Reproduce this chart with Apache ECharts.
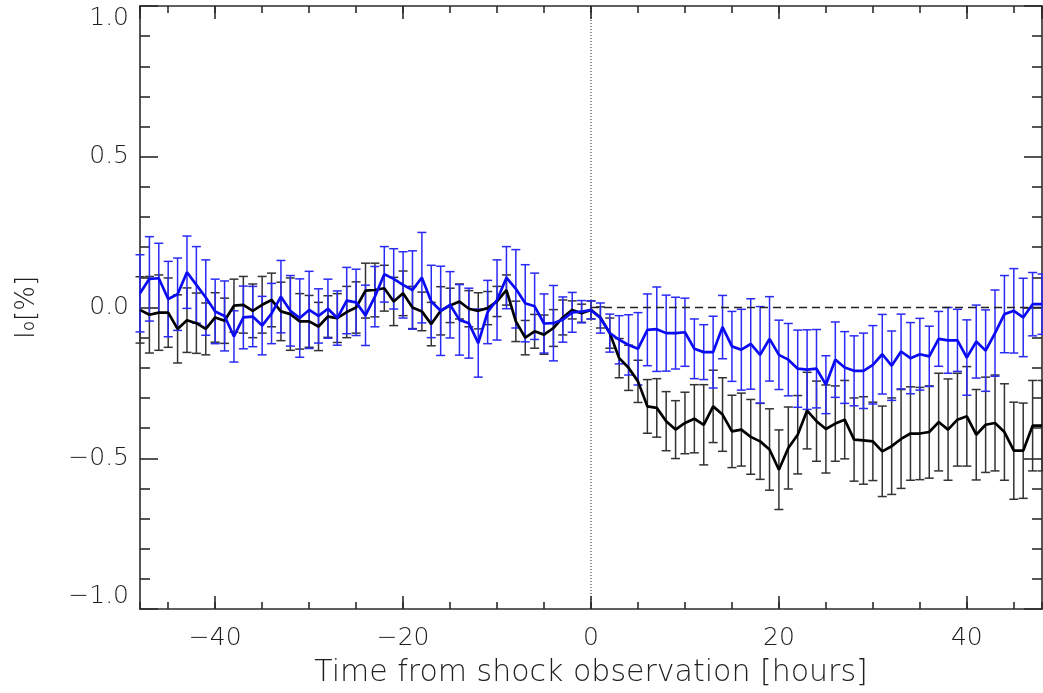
<!DOCTYPE html>
<html>
<head>
<meta charset="utf-8">
<script src="https://cdn.jsdelivr.net/npm/echarts@6/dist/echarts.min.js"></script>
<style>
html,body{margin:0;padding:0;background:#fff;}
#chart{width:1043px;height:693px;}
</style>
</head>
<body>
<div id="chart"></div>
<script>
// Hours relative to shock observation
var hours = [];
for (var h = -48; h <= 48; h++) hours.push(h);

// Black series (values and half error bars), hours -48..48
var blackValues = [
 -0.008,-0.024,-0.017,-0.017,-0.071,-0.042,-0.052,-0.071,-0.033,-0.044,
  0.006, 0.009,-0.011, 0.009, 0.025,-0.013,-0.022,-0.046,-0.046,-0.063,
 -0.030,-0.035,-0.015, 0.000, 0.056, 0.058, 0.064, 0.020, 0.047, 0.000,
 -0.013,-0.055,-0.011, 0.007, 0.020,-0.004,-0.011,-0.002, 0.020, 0.058,
 -0.046,-0.100,-0.079,-0.090,-0.068,-0.033,-0.008,-0.019,-0.008,-0.033,
 -0.085,-0.168,-0.200,-0.245,-0.328,-0.333,-0.377,-0.405,-0.383,-0.369,
 -0.389,-0.328,-0.355,-0.411,-0.405,-0.429,-0.444,-0.471,-0.538,-0.466,
 -0.422,-0.342,-0.377,-0.403,-0.385,-0.372,-0.438,-0.441,-0.444,-0.477,
 -0.460,-0.436,-0.418,-0.418,-0.413,-0.380,-0.405,-0.372,-0.361,-0.422,
 -0.389,-0.383,-0.413,-0.475,-0.475,-0.392,-0.392
];
var blackErrors = [
 0.110,0.127,0.125,0.115,0.113,0.107,0.100,0.086,0.082,0.075,
 0.088,0.094,0.089,0.094,0.089,0.097,0.120,0.092,0.086,0.080,
 0.069,0.081,0.085,0.085,0.091,0.089,0.076,0.080,0.074,0.070,
 0.064,0.072,0.080,0.057,0.058,0.060,0.060,0.055,0.050,0.050,
 0.067,0.057,0.056,0.065,0.061,0.058,0.030,0.030,0.030,0.035,
 0.050,0.065,0.075,0.070,0.089,0.097,0.098,0.096,0.102,0.113,
 0.133,0.120,0.122,0.120,0.121,0.124,0.126,0.135,0.132,0.136,
 0.130,0.127,0.133,0.146,0.125,0.130,0.138,0.145,0.130,0.150,
 0.160,0.164,0.155,0.153,0.153,0.162,0.168,0.154,0.165,0.150,
 0.158,0.159,0.160,0.161,0.158,0.150,0.150
];

// Blue series (values and half error bars), hours -48..48
var blueValues = [
  0.047, 0.095, 0.097, 0.028, 0.044, 0.117, 0.075, 0.033,-0.013,-0.028,
 -0.096,-0.033,-0.030,-0.060,-0.020, 0.036,-0.011,-0.035,-0.008,-0.028,
 -0.004,-0.035, 0.023, 0.017,-0.026, 0.036, 0.110, 0.095, 0.075, 0.058,
  0.099, 0.020,-0.011, 0.009,-0.041,-0.052,-0.118,-0.015, 0.025, 0.099,
  0.062, 0.014, 0.004,-0.053,-0.052,-0.040,-0.016,-0.014,-0.008,-0.035,
 -0.085,-0.107,-0.124,-0.137,-0.074,-0.072,-0.085,-0.085,-0.082,-0.137,
 -0.148,-0.148,-0.065,-0.129,-0.140,-0.121,-0.157,-0.104,-0.157,-0.173,
 -0.203,-0.206,-0.203,-0.256,-0.173,-0.199,-0.210,-0.210,-0.190,-0.155,
 -0.193,-0.146,-0.168,-0.155,-0.162,-0.104,-0.109,-0.109,-0.166,-0.113,
 -0.143,-0.085,-0.022,-0.011,-0.033, 0.011, 0.011
];
var blueErrors = [
 0.128,0.140,0.116,0.125,0.120,0.120,0.127,0.125,0.107,0.116,
 0.085,0.104,0.100,0.097,0.100,0.120,0.117,0.130,0.128,0.090,
 0.098,0.090,0.110,0.110,0.100,0.100,0.092,0.100,0.110,0.130,
 0.150,0.120,0.148,0.110,0.117,0.116,0.113,0.105,0.133,0.103,
 0.130,0.128,0.110,0.098,0.125,0.075,0.066,0.037,0.030,0.050,
 0.063,0.080,0.100,0.120,0.119,0.140,0.126,0.119,0.113,0.099,
 0.091,0.119,0.105,0.116,0.134,0.150,0.160,0.140,0.115,0.120,
 0.128,0.132,0.130,0.096,0.125,0.119,0.116,0.125,0.130,0.132,
 0.115,0.124,0.118,0.119,0.100,0.091,0.109,0.103,0.125,0.121,
 0.135,0.143,0.128,0.140,0.130,0.105,0.100
];

// Reference lines
var zeroLine = [[0, 0], [48, 0]];
var shockLine = [[0, -1], [0, 1]];

var xMin = -48, xMax = 48, yMin = -1, yMax = 1;

function minus(s) { return String(s).replace('-', '\u2212'); }

function pairs(vals) { return hours.map(function (h, i) { return [h, vals[i]]; }); }
function errRows(vals, errs) {
  return hours.map(function (h, i) { return [h, vals[i] - errs[i], vals[i] + errs[i]]; });
}

function errRender(color) {
  return function (params, api) {
    var x = api.value(0), lo = api.value(1), hi = api.value(2);
    var pt = api.coord([x, hi]), pb = api.coord([x, lo]);
    var w = 4.5;
    var st = { stroke: color, lineWidth: 1.5 };
    return {
      type: 'group',
      children: [
        { type: 'line', shape: { x1: pt[0], y1: pt[1], x2: pb[0], y2: pb[1] }, style: st },
        { type: 'line', shape: { x1: pt[0] - w, y1: pt[1], x2: pt[0] + w, y2: pt[1] }, style: st },
        { type: 'line', shape: { x1: pb[0] - w, y1: pb[1], x2: pb[0] + w, y2: pb[1] }, style: st }
      ]
    };
  };
}

var axisColor = '#2b2b2b';
var textColor = '#1e1e1e';
var txtFont = 'DejaVu Sans';
var txtWeight = 200;
var lineSt = { color: axisColor, width: 1.6 };

function xAx(pos, split, len, labels) {
  var a = {
    type: 'value', min: xMin, max: xMax, splitNumber: split, position: pos,
    axisLine: { show: labels !== null, onZero: false, lineStyle: lineSt },
    axisTick: { show: true, inside: true, length: len, lineStyle: lineSt },
    axisLabel: { show: false },
    splitLine: { show: false }
  };
  if (labels) {
    a.axisLabel = {
      show: true, margin: 17, fontSize: 25, fontFamily: txtFont, fontWeight: txtWeight, color: textColor,
      showMinLabel: false, showMaxLabel: false,
      formatter: function (v) { return minus(v); }
    };
    a.name = 'Time from shock observation [hours]';
    a.nameLocation = 'middle';
    a.nameGap = 49;
    a.nameTextStyle = { fontSize: 30, fontFamily: txtFont, fontWeight: txtWeight, color: textColor };
  }
  return a;
}

var chart = echarts.init(document.getElementById('chart'));
chart.setOption({
  animation: false,
  backgroundColor: '#fff',
  grid: { left: 140, right: 1, top: 6, bottom: 84, containLabel: false },
  xAxis: [
    xAx('bottom', 5, 13, true),
    xAx('bottom', 19, 7, null),
    xAx('top', 5, 13, false),
    xAx('top', 19, 7, null)
  ],
  yAxis: [
    {
      type: 'value', min: yMin, max: yMax, interval: 0.5, position: 'left',
      axisLine: { show: true, onZero: false, lineStyle: lineSt },
      axisTick: { show: true, inside: true, length: 18, lineStyle: lineSt },
      minorTick: { show: true, splitNumber: 5, length: 10, lineStyle: lineSt },
      splitLine: { show: false },
      axisLabel: {
        margin: 11, fontSize: 25, fontFamily: txtFont, fontWeight: txtWeight, color: textColor,
        verticalAlignMaxLabel: 'top', verticalAlignMinLabel: 'bottom',
        formatter: function (v) { return minus(v.toFixed(1)); }
      },
      name: 'I\u2080[%]', nameLocation: 'middle', nameGap: 100, nameRotate: 90,
      nameTextStyle: { fontSize: 26, fontFamily: txtFont, fontWeight: txtWeight, color: textColor }
    },
    {
      type: 'value', min: yMin, max: yMax, interval: 0.5, position: 'right',
      axisLine: { show: true, onZero: false, lineStyle: lineSt },
      axisTick: { show: true, inside: true, length: 18, lineStyle: lineSt },
      minorTick: { show: true, splitNumber: 5, length: 10, lineStyle: lineSt },
      splitLine: { show: false },
      axisLabel: { show: false }
    }
  ],
  series: [
    {
      type: 'line', data: shockLine, symbol: 'none', silent: true,
      lineStyle: { color: '#222', width: 1, type: [1, 2] }
    },
    {
      type: 'line', data: zeroLine, symbol: 'none', silent: true,
      lineStyle: { color: '#222', width: 1.5, type: [8, 5] }
    },
    {
      type: 'custom', data: errRows(blackValues, blackErrors),
      encode: { x: 0, y: [1, 2] }, renderItem: errRender('#333333'), clip: false, silent: true
    },
    {
      type: 'custom', data: errRows(blueValues, blueErrors),
      encode: { x: 0, y: [1, 2] }, renderItem: errRender('#2a2af5'), clip: false, silent: true
    },
    {
      type: 'line', data: pairs(blackValues), symbol: 'none', silent: true,
      lineStyle: { color: '#000000', width: 2.7 }
    },
    {
      type: 'line', data: pairs(blueValues), symbol: 'none', silent: true,
      lineStyle: { color: '#0a0af5', width: 2.7 }
    }
  ]
});
</script>
</body>
</html>
